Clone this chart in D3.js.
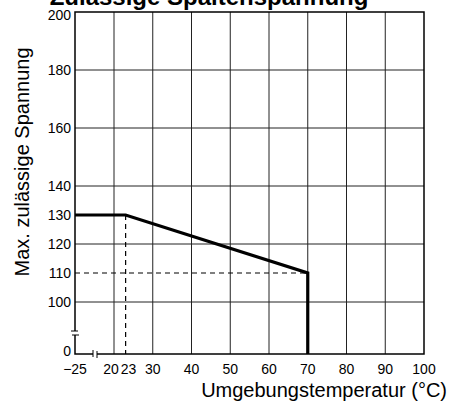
<!DOCTYPE html>
<html>
<head>
<meta charset="utf-8">
<script src="https://cdn.jsdelivr.net/npm/d3@7"></script>
<style>
  body { margin: 0; background: #fff; }
  text { font-family: "Liberation Sans", Arial, sans-serif; fill: #000; }
</style>
</head>
<body>
<svg id="chart" width="463" height="406"></svg>
<script>
// data
var curveTemp = [-25, 23, 70, 70];
var curveVolt = [130, 130, 110, 0];
var xTicks = [-25, 20, 23, 30, 40, 50, 60, 70, 80, 90, 100];
var xTickLabels = ["\u221225", "20", "23", "30", "40", "50", "60", "70", "80", "90", "100"];
var xGrid = [20, 30, 40, 50, 60, 70, 80, 90];
var yTicks = [0, 100, 110, 120, 130, 140, 160, 180, 200];
var yGrid = [100, 120, 140, 160, 180];

var svg = d3.select("#chart");

// broken scales: -25 .. 20 squeezed, 0 .. 100 squeezed
var x = d3.scaleLinear().domain([-25, 20, 100]).range([75, 114, 424]);
var y = d3.scaleLinear().domain([0, 100, 200]).range([354, 302, 12]);

// grid
svg.append("g").selectAll("line").data(xGrid).join("line")
  .attr("x1", d => x(d)).attr("x2", d => x(d))
  .attr("y1", y(0)).attr("y2", y(200))
  .attr("stroke", "#222").attr("stroke-width", 1);

svg.append("g").selectAll("line").data(yGrid).join("line")
  .attr("x1", x(-25)).attr("x2", x(100))
  .attr("y1", d => y(d)).attr("y2", d => y(d))
  .attr("stroke", "#222").attr("stroke-width", 1);

// frame
svg.append("rect")
  .attr("x", x(-25)).attr("y", y(200))
  .attr("width", x(100) - x(-25)).attr("height", y(0) - y(200))
  .attr("fill", "none").attr("stroke", "#000").attr("stroke-width", 1.5);

// dashed helper lines
svg.append("line")
  .attr("x1", x(23)).attr("x2", x(23))
  .attr("y1", y(130)).attr("y2", y(0))
  .attr("stroke", "#000").attr("stroke-width", 1.2)
  .attr("stroke-dasharray", "5,4");
svg.append("line")
  .attr("x1", x(-25)).attr("x2", x(70))
  .attr("y1", y(110)).attr("y2", y(110))
  .attr("stroke", "#000").attr("stroke-width", 1.2)
  .attr("stroke-dasharray", "5,4");

// axis break marks
var bx = x(-25), by = (y(0) + y(100)) / 2 + 5;
svg.append("rect").attr("x", bx - 3).attr("y", by - 2).attr("width", 6).attr("height", 4).attr("fill", "#fff");
svg.append("line").attr("x1", bx - 4).attr("x2", bx + 3).attr("y1", by - 2).attr("y2", by - 2).attr("stroke", "#000");
svg.append("line").attr("x1", bx - 3).attr("x2", bx + 4).attr("y1", by + 2).attr("y2", by + 2).attr("stroke", "#000");
var cx = x(-25) + 20, cy = y(0);
svg.append("rect").attr("x", cx - 2).attr("y", cy - 3).attr("width", 4).attr("height", 6).attr("fill", "#fff");
svg.append("line").attr("x1", cx - 2).attr("x2", cx - 2).attr("y1", cy - 4).attr("y2", cy + 3).attr("stroke", "#000");
svg.append("line").attr("x1", cx + 2).attr("x2", cx + 2).attr("y1", cy - 3).attr("y2", cy + 4).attr("stroke", "#000");

// curve
var line = d3.line().x(d => x(d[0])).y(d => y(d[1]));
svg.append("path")
  .datum(curveTemp.map((t, i) => [t, curveVolt[i]]))
  .attr("d", line)
  .attr("fill", "none").attr("stroke", "#000").attr("stroke-width", 3.2)
  .attr("stroke-linejoin", "miter");

// y tick labels
svg.append("g").selectAll("text").data(yTicks).join("text")
  .attr("x", x(-25) - 4).attr("y", d => y(d) + (d === 200 ? 8 : d === 0 ? 2 : 5))
  .attr("text-anchor", "end").attr("font-size", 14)
  .text(d => d);

// x tick labels
svg.append("g").selectAll("text").data(xTicks).join("text")
  .attr("x", (d, i) => x(d) + (d === 20 ? -3 : d === 23 ? 3 : 0))
  .attr("y", y(0) + 20)
  .attr("text-anchor", "middle").attr("font-size", 14)
  .text((d, i) => xTickLabels[i]);

// titles
svg.append("text")
  .attr("x", 209).attr("y", 5)
  .attr("text-anchor", "middle").attr("font-size", 24).attr("font-weight", "bold")
  .text("Zulässige Spaltenspannung");

svg.append("text")
  .attr("transform", "translate(29,162) rotate(-90)")
  .attr("text-anchor", "middle").attr("font-size", 20)
  .text("Max. zulässige Spannung");

svg.append("text")
  .attr("x", 447).attr("y", 397)
  .attr("text-anchor", "end").attr("font-size", 20)
  .text("Umgebungstemperatur (°C)");
</script>
</body>
</html>
